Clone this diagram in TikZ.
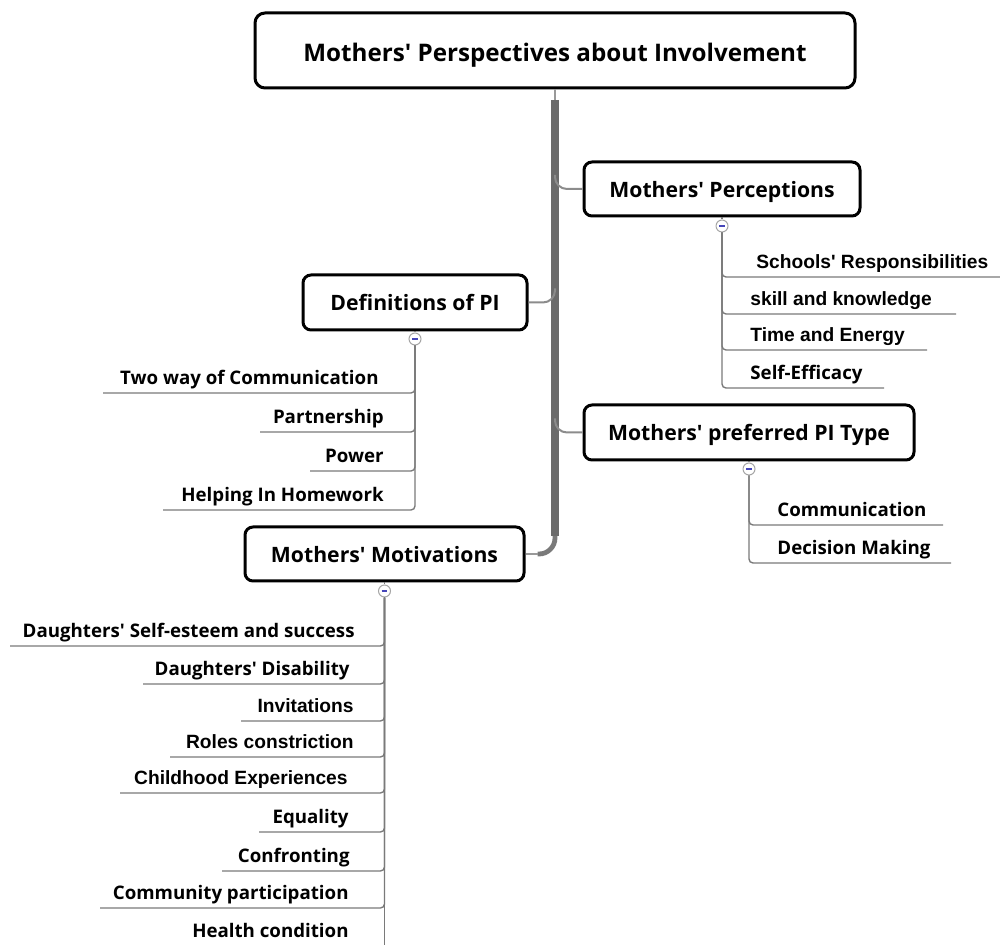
\documentclass[tikz,border=0pt]{standalone}
\usepackage{fontspec}
\setmainfont{Open Sans}
\newfontfamily\osb{Open Sans}[BoldFont={* Bold}]
\newfontfamily\lsb{Liberation Sans}
\begin{document}
\begin{tikzpicture}[x=0.5pt,y=-0.5pt,
  topic/.style={draw=black, line width=1.5pt, rounded corners=4pt, fill=white,
    inner sep=0pt, text height=8.5pt, text depth=0pt,
    font=\osb\bfseries\fontsize{10.6}{12}\selectfont},
  roottopic/.style={topic, rounded corners=5pt, text height=11.5pt,
    font=\osb\bfseries\fontsize{12.1}{14}\selectfont},
  leafo/.style={inner sep=0pt, font=\osb\bfseries\fontsize{9.35}{11}\selectfont},
  leafl/.style={inner sep=0pt, font=\lsb\bfseries\fontsize{9.6}{11}\selectfont},
  collapser/.style={circle, draw=gray!70, fill=white, line width=0.5pt, minimum size=6pt, inner sep=0pt,
    path picture={\draw[blue!45!gray, line width=0.6pt]
      ([xshift=-1.4pt]path picture bounding box.center) -- ([xshift=1.4pt]path picture bounding box.center);}},
  trunk/.style={draw=black!58, line width=3.6pt},
  branch/.style={draw=black!45, line width=1pt, rounded corners=6pt},
  twig/.style={draw=black!52, line width=0.7pt, rounded corners=2pt},
]
\useasboundingbox (0,0) rectangle (1000,945);

% main topics
\node[roottopic, minimum width=300pt, minimum height=37.5pt] (root) at (555,50.5)
  {Mothers' Perspectives about Involvement};
\node[topic, minimum width=138pt, minimum height=27pt] (per) at (722,189) {Mothers' Perceptions};
\node[topic, minimum width=112pt, minimum height=27.5pt] (def) at (415,302.5) {Definitions of PI};
\node[topic, minimum width=165pt, minimum height=27.5pt] (pref) at (749,432.5) {Mothers' preferred PI Type};
\node[topic, minimum width=139.5pt, minimum height=27pt] (mot) at (384.5,554) {Mothers' Motivations};

% trunk from the central topic
\coordinate (tk) at (555,100);
\coordinate (tb) at (555,536);
\draw[draw=black!40, line width=1pt] (root.south) -- (tk);
\draw[trunk] (tk) -- (tb);
\draw[branch] (root.south |- per.west) ++(0,-14) |- (per.west);
\draw[branch] (root.south |- def.east) ++(0,-14) |- (def.east);
\draw[branch] (root.south |- pref.east) ++(0,-14) |- (pref.west);
\draw[draw=black!52, line width=2.4pt, rounded corners=8pt] (tb) |- ([xshift=6pt]mot.east);
\draw[draw=black!40, line width=1pt] ([xshift=6pt]mot.east) -- (mot.east);

% collapse buttons
\node[collapser] (cP) at (722,226) {};
\node[collapser] (cD) at (415,339) {};
\node[collapser] (cR) at (749,469) {};
\node[collapser] (cM) at (384.5,591) {};
\draw[twig] (per.south) -- (cP.north);
\draw[twig] (def.south) -- (cD.north);
\draw[twig] (pref.south) -- (cR.north);
\draw[twig] (mot.south) -- (cM.north);

% Mothers' Perceptions
\node[leafl, anchor=base west] (p1) at (756,268.5) {Schools' Responsibilities};
\node[leafl, anchor=base west] (p2) at (750,305.5) {skill and knowledge};
\node[leafl, anchor=base west] (p3) at (750,341.5) {Time and Energy};
\node[leafo, anchor=base west] (p4) at (750,379.5) {Self-Efficacy};
\coordinate (p1u) at (1000,277);
\coordinate (p2u) at (956,314);
\coordinate (p3u) at (927,350);
\coordinate (p4u) at (884,388);
\foreach \u in {p1u,p2u,p3u,p4u} \draw[twig] (cP.south) |- (\u);

% Definitions of PI
\node[leafo, anchor=base east] (d1) at (379,384.5) {Two way of Communication};
\node[leafo, anchor=base east] (d2) at (384,423.5) {Partnership};
\node[leafo, anchor=base east] (d3) at (384,462.5) {Power};
\node[leafo, anchor=base east] (d4) at (384,501.5) {Helping In Homework};
\coordinate (d1u) at (103,393);
\coordinate (d2u) at (260,432);
\coordinate (d3u) at (310,471);
\coordinate (d4u) at (163,510);
\foreach \u in {d1u,d2u,d3u,d4u} \draw[twig] (cD.south) |- (\u);

% Mothers' preferred PI Type
\node[leafo, anchor=base west] (r1) at (777,516.5) {Communication};
\node[leafo, anchor=base west] (r2) at (777,554.5) {Decision Making};
\coordinate (r1u) at (943,525);
\coordinate (r2u) at (951,563);
\foreach \u in {r1u,r2u} \draw[twig] (cR.south) |- (\u);

% Mothers' Motivations
\node[leafo, anchor=base east] (m1) at (355,637.5) {Daughters' Self-esteem and success};
\node[leafo, anchor=base east] (m2) at (350,675.5) {Daughters' Disability};
\node[leafl, anchor=base east] (m3) at (354,712.5) {Invitations};
\node[leafl, anchor=base east] (m4) at (354,748.5) {Roles constriction};
\node[leafl, anchor=base east] (m5) at (348,784.5) {Childhood Experiences};
\node[leafo, anchor=base east] (m6) at (349,823.5) {Equality};
\node[leafo, anchor=base east] (m7) at (350,862.5) {Confronting};
\node[leafo, anchor=base east] (m8) at (349,899.5) {Community participation};
\node[leafo, anchor=base east] (m9) at (349,937.5) {Health condition};
\coordinate (m1u) at (10,646);
\coordinate (m2u) at (143,684);
\coordinate (m3u) at (241,721);
\coordinate (m4u) at (170,757);
\coordinate (m5u) at (120,793);
\coordinate (m6u) at (259,832);
\coordinate (m7u) at (222,871);
\coordinate (m8u) at (100,908);
\coordinate (mend) at (384.5,945);
\foreach \u in {m1u,m2u,m3u,m4u,m5u,m6u,m7u,m8u} \draw[twig] (cM.south) |- (\u);
\draw[twig] (cM.south) -- (mend);
\end{tikzpicture}
\end{document}
